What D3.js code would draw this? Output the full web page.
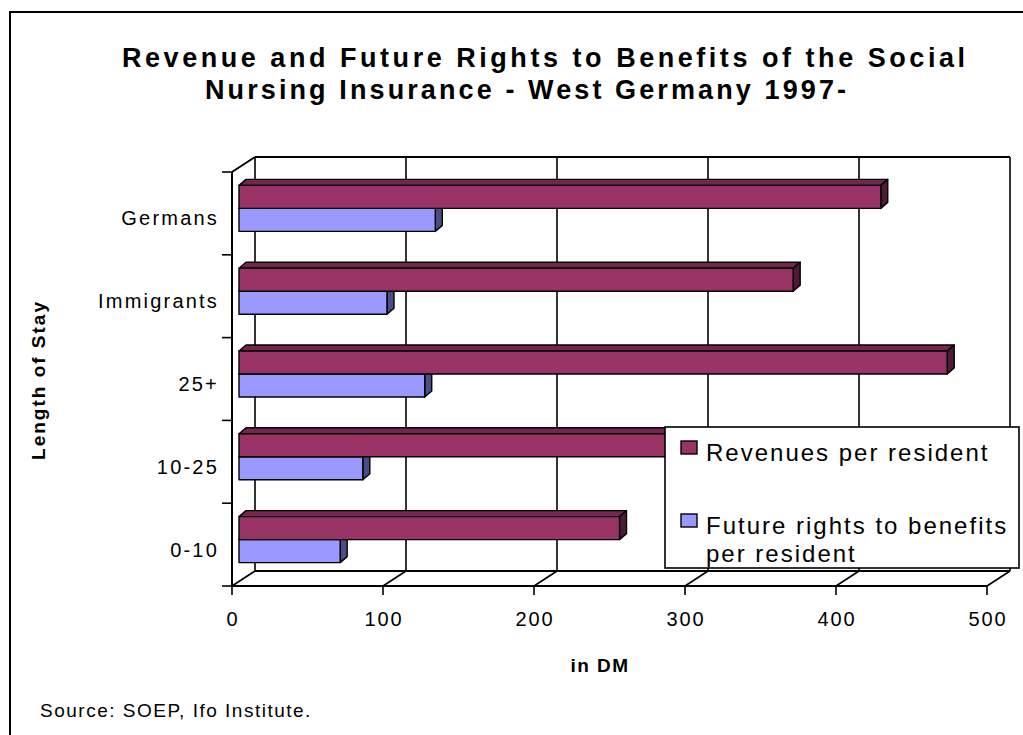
<!DOCTYPE html>
<html>
<head>
<meta charset="utf-8">
<script src="https://cdn.jsdelivr.net/npm/d3@7"></script>
<style>
  html, body { margin: 0; padding: 0; background: #fff; }
  svg { display: block; font-family: "Liberation Sans", Arial, sans-serif; }
</style>
</head>
<body>
<svg id="chart" width="1023" height="735"></svg>
<script>
// Length-of-stay groups and the two series, in DM per resident
const categories = ["Germans", "Immigrants", "25+", "10-25", "0-10"];
const revenues = [425, 367, 469, 340, 252];
const benefits = [130, 98, 123, 82, 67];
const seriesNames = ["Revenues per resident", "Future rights to benefits per resident"];
const xTicks = [0, 100, 200, 300, 400, 500];

const svg = d3.select("#chart");

// Front plane of the 3-D box
const frontLeft = 232, frontRight = 987, frontTop = 172, frontBottom = 586;
// Offset from front plane to back wall
const depth = { dx: 23, dy: -15 };
// Bars sit part-way into the box and have their own thickness
const barOff = { dx: 7, dy: -5 };
const barDepth = { dx: 7, dy: -6 };

const colors = {
  red: "#993366", redTop: "#732650", redSide: "#4e1a35",
  blue: "#9999ff", blueSide: "#4d4d85"
};

const x = d3.scaleLinear().domain([0, 500]).range([frontLeft, frontRight]);
const y = d3.scaleBand().domain(categories).range([frontTop, frontBottom]).padding(0);
const ySeries = d3.scaleBand().domain(["rev", "ben"]).range([0, y.bandwidth()])
  .paddingInner(0).paddingOuter(0.8);

// Outer chart frame
svg.append("rect")
  .attr("x", 10).attr("y", 12).attr("width", 1200).attr("height", 900)
  .attr("fill", "none").attr("stroke", "#000").attr("stroke-width", 2);

// Title
const title = svg.append("text")
  .attr("font-weight", "bold").attr("font-size", 27).attr("fill", "#000");
title.append("tspan").attr("x", 122).attr("y", 67)
  .attr("textLength", 843).attr("lengthAdjust", "spacing")
  .text("Revenue and Future Rights to Benefits of the Social");
title.append("tspan").attr("x", 205).attr("y", 99)
  .attr("textLength", 641).attr("lengthAdjust", "spacing")
  .text("Nursing Insurance - West Germany 1997-");

const box = svg.append("g").attr("stroke", "#000").attr("fill", "none");
const line = (x1, y1, x2, y2, w) => box.append("line")
  .attr("x1", x1).attr("y1", y1).attr("x2", x2).attr("y2", y2)
  .attr("stroke-width", w || 2);

// Back wall gridlines and floor diagonals
xTicks.forEach(v => {
  const fx = x(v), bx = x(v) + depth.dx;
  line(bx, frontTop + depth.dy, bx, frontBottom + depth.dy, 1.6);
  line(fx, frontBottom, bx, frontBottom + depth.dy, 1.6);
  line(fx, frontBottom, fx, frontBottom + 9, 1.6);
});
// Back wall top edge, floor edges, left wall edges
line(x(0) + depth.dx, frontTop + depth.dy, x(500) + depth.dx, frontTop + depth.dy);
line(x(0) + depth.dx, frontBottom + depth.dy, x(500) + depth.dx, frontBottom + depth.dy);
line(frontLeft, frontBottom, frontRight, frontBottom);
line(frontLeft, frontTop, frontLeft, frontBottom);
line(frontLeft, frontTop, frontLeft + depth.dx, frontTop + depth.dy);

// Category ticks on the left wall
const boundaries = categories.map(c => y(c)).concat([frontBottom]);
boundaries.forEach(b => line(frontLeft - 10, b, frontLeft, b, 1.6));

// Bars: one 3-D box per value
const bars = svg.append("g").attr("stroke", "#000").attr("stroke-width", 1.4)
  .attr("stroke-linejoin", "round");

function drawBar(cat, key, value, front, top, side) {
  const x0 = x(0) + barOff.dx, x1 = x(value) + barOff.dx;
  const y0 = y(cat) + ySeries(key) + barOff.dy;
  const y1 = y0 + ySeries.bandwidth();
  const dx = barDepth.dx, dy = barDepth.dy;
  if (top) {
    bars.append("path").attr("fill", top)
      .attr("d", `M${x0},${y0}L${x0 + dx},${y0 + dy}L${x1 + dx},${y0 + dy}L${x1},${y0}Z`);
  }
  bars.append("path").attr("fill", side)
    .attr("d", `M${x1},${y0}L${x1 + dx},${y0 + dy}L${x1 + dx},${y1 + dy}L${x1},${y1}Z`);
  bars.append("rect").attr("fill", front)
    .attr("x", x0).attr("y", y0).attr("width", x1 - x0).attr("height", y1 - y0);
}

categories.forEach((c, i) => {
  drawBar(c, "ben", benefits[i], colors.blue, colors.blue, colors.blueSide);
  drawBar(c, "rev", revenues[i], colors.red, colors.redTop, colors.redSide);
});

// Category labels
svg.append("g").selectAll("text").data(categories).join("text")
  .attr("x", 219).attr("y", d => y(d) + y.bandwidth() / 2 + 12)
  .attr("text-anchor", "end").attr("font-size", 20).attr("letter-spacing", 2.2)
  .text(d => d);

// Value axis labels
svg.append("g").selectAll("text").data(xTicks).join("text")
  .attr("x", d => x(d) + 1).attr("y", 626)
  .attr("text-anchor", "middle").attr("font-size", 20).attr("letter-spacing", 1.8)
  .text(d => d);

// Axis titles
svg.append("text").attr("x", 600).attr("y", 672).attr("text-anchor", "middle")
  .attr("font-weight", "bold").attr("font-size", 19).attr("letter-spacing", 1.5)
  .text("in DM");
svg.append("text").attr("transform", "translate(45,380) rotate(-90)")
  .attr("text-anchor", "middle").attr("font-weight", "bold").attr("font-size", 19)
  .attr("letter-spacing", 2)
  .text("Length of Stay");

// Source note
svg.append("text").attr("x", 40).attr("y", 717).attr("font-size", 19)
  .attr("letter-spacing", 1.5)
  .text("Source: SOEP, Ifo Institute.");

// Legend
const legend = svg.append("g");
legend.append("rect").attr("x", 665).attr("y", 427).attr("width", 354).attr("height", 141)
  .attr("fill", "#fff").attr("stroke", "#000").attr("stroke-width", 1.6);
const legendItems = [
  { fill: colors.red, lines: [seriesNames[0]], y: 441 },
  { fill: colors.blue, lines: ["Future rights to benefits", "per resident"], y: 514 }
];
legendItems.forEach(item => {
  legend.append("rect").attr("x", 681).attr("y", item.y).attr("width", 16).attr("height", 13)
    .attr("fill", item.fill).attr("stroke", "#000").attr("stroke-width", 1.4);
  const t = legend.append("text").attr("font-size", 24).attr("letter-spacing", 2.0);
  item.lines.forEach((l, k) => {
    t.append("tspan").attr("x", 706).attr("y", item.y + 20 + k * 28).text(l);
  });
});
</script>
</body>
</html>
